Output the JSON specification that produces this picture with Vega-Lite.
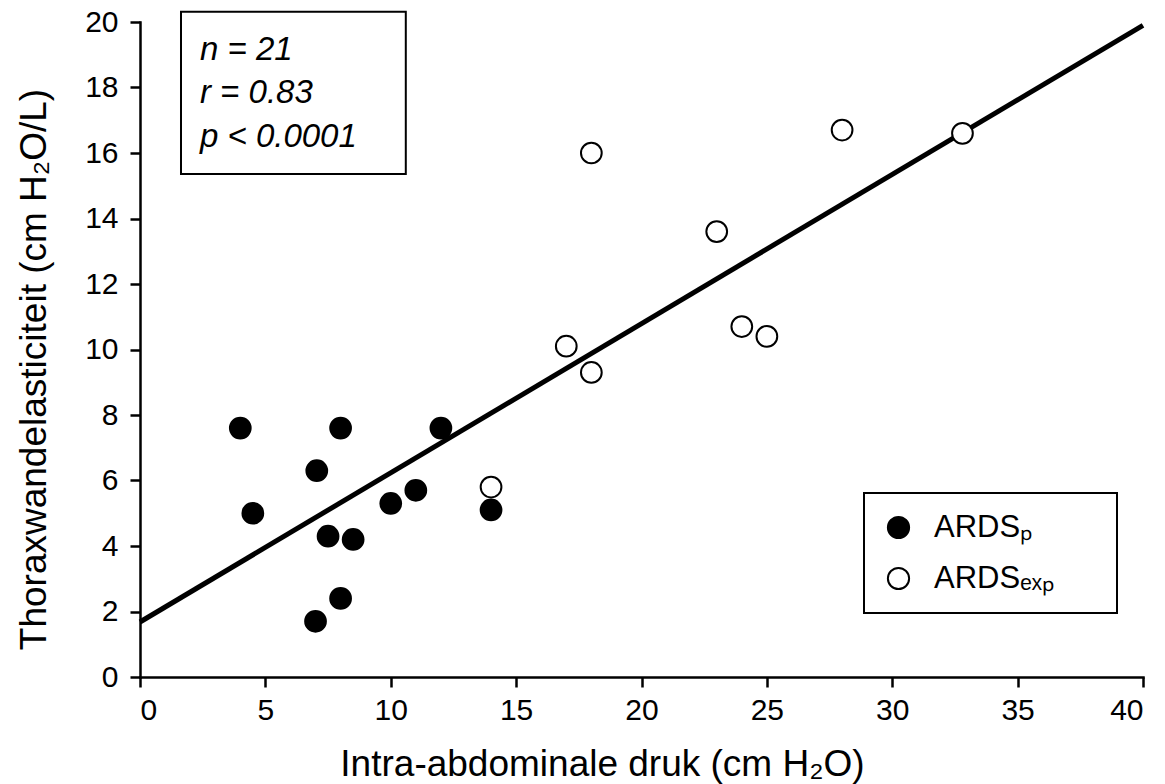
{
  "$schema": "https://vega.github.io/schema/vega-lite/v6.json",
  "width": 1003,
  "height": 655,
  "autosize": {"type": "none"},
  "padding": {"left": 140, "top": 22, "right": 22, "bottom": 107},
  "background": "white",
  "config": {
    "view": {"stroke": null},
    "font": "Liberation Sans",
    "axis": {
      "domainColor": "black", "domainWidth": 2.5, "domainCap": "square",
      "tickColor": "black", "tickWidth": 2.5, "tickSize": 10,
      "labelColor": "black", "labelFontSize": 30, "labelFont": "Liberation Sans",
      "titleFont": "Liberation Sans", "titleFontSize": 37, "titleFontWeight": "normal", "titleColor": "black",
      "grid": false
    },
    "legend": {"strokeWidth": 2}
  },
  "datasets": {
    "points": [
      {"x": 4, "y": 7.6, "group": "ARDSₚ"},
      {"x": 4.5, "y": 5.0, "group": "ARDSₚ"},
      {"x": 7.05, "y": 6.3, "group": "ARDSₚ"},
      {"x": 7, "y": 1.7, "group": "ARDSₚ"},
      {"x": 7.5, "y": 4.3, "group": "ARDSₚ"},
      {"x": 8, "y": 7.6, "group": "ARDSₚ"},
      {"x": 8, "y": 2.4, "group": "ARDSₚ"},
      {"x": 8.5, "y": 4.2, "group": "ARDSₚ"},
      {"x": 10, "y": 5.3, "group": "ARDSₚ"},
      {"x": 11, "y": 5.7, "group": "ARDSₚ"},
      {"x": 12, "y": 7.6, "group": "ARDSₚ"},
      {"x": 14, "y": 5.1, "group": "ARDSₚ"},
      {"x": 14, "y": 5.8, "group": "ARDSₑₓₚ"},
      {"x": 17, "y": 10.1, "group": "ARDSₑₓₚ"},
      {"x": 18, "y": 9.3, "group": "ARDSₑₓₚ"},
      {"x": 18, "y": 16.0, "group": "ARDSₑₓₚ"},
      {"x": 23, "y": 13.6, "group": "ARDSₑₓₚ"},
      {"x": 24, "y": 10.7, "group": "ARDSₑₓₚ"},
      {"x": 25, "y": 10.4, "group": "ARDSₑₓₚ"},
      {"x": 28, "y": 16.7, "group": "ARDSₑₓₚ"},
      {"x": 32.8, "y": 16.6, "group": "ARDSₑₓₚ"}
    ],
    "fit": [
      {"x": 0, "y": 1.68},
      {"x": 40, "y": 19.9}
    ],
    "stats": [
      {"label": "stats"}
    ]
  },
  "layer": [
    {
      "data": {"name": "fit"},
      "mark": {"type": "line", "color": "black", "strokeWidth": 5, "strokeCap": "butt"},
      "encoding": {
        "x": {
          "field": "x", "type": "quantitative",
          "scale": {"domain": [0, 40], "nice": false},
          "axis": {"values": [0, 5, 10, 15, 20, 25, 30, 35, 40], "labelPadding": 8,
                   "title": "Intra-abdominale druk (cm H₂O)", "titleX": 462, "titleY": 98,
                   "titleBaseline": "alphabetic", "titleAlign": "center"}
        },
        "y": {
          "field": "y", "type": "quantitative",
          "scale": {"domain": [0, 20], "nice": false},
          "axis": {"values": [0, 2, 4, 6, 8, 10, 12, 14, 16, 18, 20], "labelPadding": 12,
                   "title": "Thoraxwandelasticiteit (cm H₂O/L)", "titleX": -95, "titleY": 347,
                   "titleAngle": -90, "titleBaseline": "alphabetic", "titleAlign": "center"}
        }
      }
    },
    {
      "data": {"name": "points"},
      "mark": {"type": "point", "shape": "circle", "filled": true, "size": 430, "stroke": "black", "strokeWidth": 2, "opacity": 1},
      "encoding": {
        "x": {"field": "x", "type": "quantitative"},
        "y": {"field": "y", "type": "quantitative"},
        "fill": {
          "field": "group", "type": "nominal",
          "scale": {"domain": ["ARDSₚ", "ARDSₑₓₚ"], "range": ["black", "white"]},
          "legend": {
            "title": ".", "titleOrient": "right", "titleFontSize": 4, "titleOpacity": 0,
            "titlePadding": 42,
            "orient": "none", "legendX": 724, "legendY": 471,
            "direction": "vertical", "strokeColor": "black", "fillColor": "white",
            "padding": 19, "symbolType": "circle", "symbolSize": 450,
            "symbolStrokeColor": "black", "symbolStrokeWidth": 2,
            "labelFontSize": 31, "labelFont": "Liberation Sans", "labelColor": "black",
            "labelOffset": 20, "rowPadding": 19
          }
        }
      }
    },
    {
      "data": {"name": "stats"},
      "mark": {"type": "rect", "fill": "white", "stroke": "black", "strokeWidth": 2},
      "encoding": {
        "x": {"datum": 1.635}, "x2": {"datum": 10.6},
        "y": {"datum": 20.31}, "y2": {"datum": 15.36}
      }
    },
    {
      "data": {"name": "stats"},
      "mark": {"type": "text", "text": ["n = 21", "r = 0.83", "p < 0.0001"], "fontStyle": "italic",
               "fontSize": 33, "align": "left", "baseline": "alphabetic", "lineHeight": 43.5,
               "color": "black", "font": "Liberation Sans"},
      "encoding": {"x": {"datum": 2.39}, "y": {"datum": 18.84}}
    }
  ]
}
